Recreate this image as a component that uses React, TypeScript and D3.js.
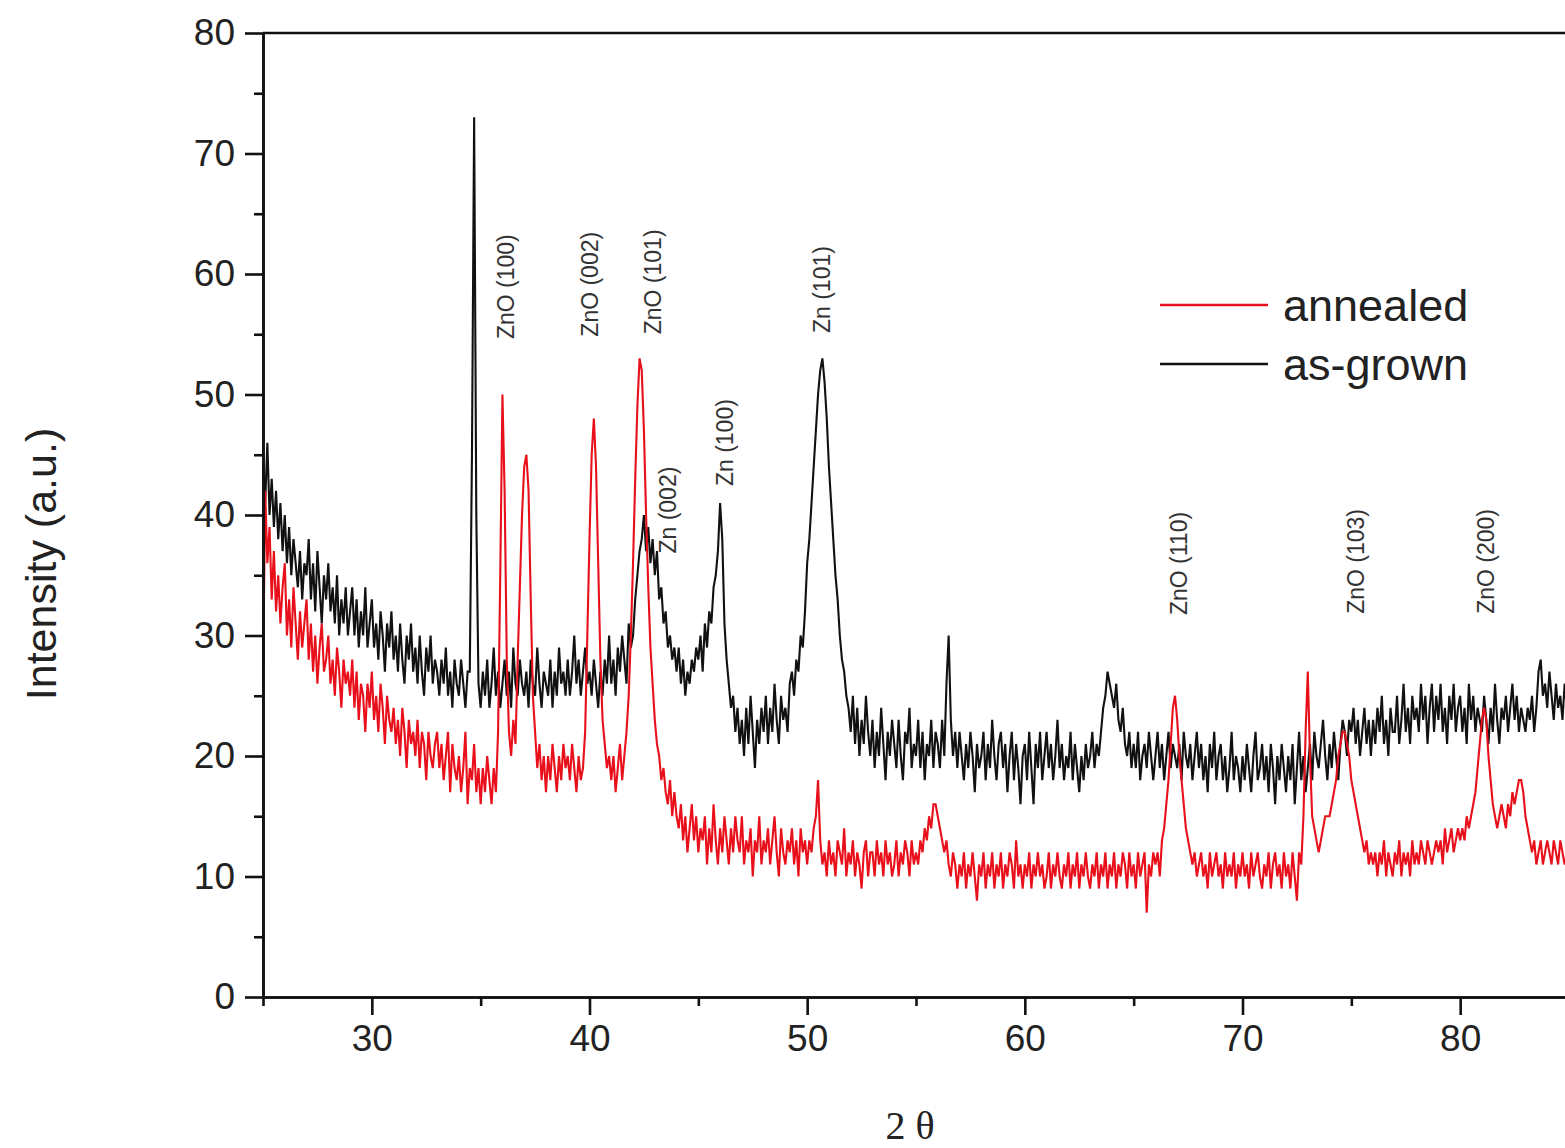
import * as d3 from "d3";
import { useRef, useEffect } from "react";

// 2θ grid of the scans: first angle and step (degrees)
const thetaStart = 25;
const thetaStep = 0.1;

// as-grown film, one row per degree (25.0 .. 25.9, 26.0 .. 26.9, ...)
const asGrown = [
  44, 41, 46, 40, 43, 39, 42, 38, 41, 37,
  40, 36, 39, 35, 38, 36, 34, 37, 33, 36,
  35, 38, 33, 36, 32, 37, 34, 31, 35, 33,
  36, 32, 34, 31, 35, 30, 33, 31, 34, 30,
  32, 34, 30, 33, 29, 32, 30, 34, 29, 31,
  33, 29, 31, 28, 32, 30, 27, 31, 29, 32,
  28, 30, 27, 31, 28, 26, 30, 28, 31, 27,
  29, 26, 30, 27, 25, 29, 27, 30, 26, 28,
  27, 25, 28, 26, 29, 25, 27, 24, 28, 26,
  25, 28, 26, 24, 27, 27, 45, 73, 40, 26,
  24, 27, 25, 28, 24, 26, 29, 25, 27, 24,
  26, 28, 25, 27, 24, 29, 26, 25, 28, 26,
  25, 27, 24, 28, 26, 25, 29, 26, 24, 27,
  26, 25, 28, 24, 27, 25, 29, 26, 27, 25,
  28, 25, 27, 30, 26, 28, 25, 27, 29, 26,
  27, 25, 28, 26, 24, 27, 25, 28, 26, 30,
  26, 28, 25, 29, 27, 30, 28, 26, 31, 29,
  30, 33, 35, 37, 38, 40, 37, 39, 36, 38,
  35, 37, 33, 34, 31, 32, 29, 30, 28, 29,
  27, 29, 26, 28, 25, 27, 26, 28, 27, 29,
  28, 30, 27, 31, 29, 32, 31, 34, 35, 37,
  41, 38, 31, 28, 26, 24, 25, 22, 24, 21,
  23, 20, 24, 21, 25, 22, 19, 23, 21, 24,
  22, 25, 21, 24, 22, 26, 23, 21, 25, 23,
  24, 22, 26, 27, 25, 28, 27, 30, 29, 32,
  36, 38, 41, 44, 47, 50, 52, 53, 51, 48,
  44, 41, 38, 35, 33, 30, 28, 27, 25, 24,
  22, 25, 21, 24, 20, 23, 21, 25, 22, 20,
  23, 19, 22, 20, 24, 21, 18, 22, 20, 23,
  21, 19, 23, 20, 18, 22, 21, 24, 19, 21,
  20, 23, 19, 22, 18, 21, 20, 23, 19, 22,
  21, 19, 23, 20, 26, 30, 23, 20, 22, 19,
  22, 20, 18, 21, 19, 22, 20, 17, 21, 19,
  20, 22, 18, 21, 19, 23, 20, 18, 21, 22,
  19, 21, 17, 20, 22, 18, 21, 19, 16, 20,
  21, 18, 22, 19, 16, 21, 19, 22, 18, 20,
  22, 19, 21, 18, 20, 23, 19, 21, 18, 20,
  19, 22, 18, 21, 19, 17, 20, 18, 21, 19,
  20, 22, 19, 21, 20, 22, 24, 25, 27, 26,
  25, 24, 26, 23, 22, 24, 21, 20, 22, 19,
  21, 19, 22, 18, 20, 21, 19, 22, 20, 18,
  20, 22, 19, 21, 18, 20, 22, 19, 21, 20,
  19, 21, 18, 22, 20, 19, 21, 18, 20, 22,
  19, 21, 18, 20, 17, 21, 19, 22, 18, 20,
  21, 18, 20, 17, 19, 22, 18, 20, 19, 17,
  20, 18, 21, 19, 17, 20, 22, 18, 19, 21,
  18, 20, 17, 21, 19, 16, 20, 18, 21, 19,
  17, 20, 18, 21, 16, 19, 22, 18, 20, 17,
  19, 21, 18, 22, 20, 19, 21, 23, 20, 18,
  21, 19, 22, 20, 18, 21, 23, 22, 20, 23,
  22, 24, 21, 23, 20, 22, 24, 21, 23, 20,
  23, 21, 24, 22, 25, 21, 23, 20, 24, 22,
  22, 25, 21, 23, 26, 22, 24, 21, 25, 23,
  24, 22, 26, 23, 25, 21, 24, 26, 22, 25,
  23, 26, 22, 24, 21, 25, 23, 26, 22, 24,
  25, 22, 24, 21, 26, 23, 25, 22, 24, 23,
  22, 25, 23, 21, 24, 22, 26, 23, 21, 24,
  23, 25, 22, 24, 26, 23, 25, 22, 24, 23,
  22, 24, 23, 25, 22, 24, 27, 28, 25, 26,
  24, 27, 25, 23, 26, 24, 25, 23, 26, 24,
  25,
];

// annealed film, same grid
const annealed = [
  26, 42, 36, 39, 33, 37, 32, 35, 31, 34,
  36, 30, 33, 29, 34, 31, 28, 32, 29, 31,
  33, 28, 31, 27, 30, 26, 29, 31, 27, 28,
  30, 26, 28, 25, 29, 27, 24, 28, 26, 27,
  25, 28, 24, 27, 23, 26, 25, 22, 26, 24,
  27, 23, 25, 22, 26, 24, 21, 25, 23, 22,
  24, 21, 23, 20, 24, 22, 19, 23, 21, 22,
  20, 23, 19, 22, 21, 18, 22, 20, 19, 21,
  22, 19, 21, 18, 20, 22, 17, 21, 19, 18,
  20, 17, 19, 22, 16, 19, 18, 21, 17, 19,
  16, 19, 17, 20, 18, 16, 19, 17, 22, 35,
  50, 42, 28, 22, 20, 23, 21, 28, 34, 40,
  44, 45, 42, 33, 25, 22, 19, 21, 18, 20,
  17, 20, 18, 21, 19, 17, 20, 18, 21, 19,
  20, 18, 21, 19, 17, 20, 18, 19, 22, 30,
  38, 45, 48, 44, 36, 28, 23, 21, 19, 20,
  18, 20, 17, 19, 21, 18, 20, 22, 25, 30,
  36, 43, 49, 53, 52, 47, 40, 34, 29, 26,
  23, 21, 20, 18, 19, 17, 16, 18, 15, 17,
  15, 14, 16, 13, 15, 12, 14, 16, 13, 15,
  12, 14, 13, 15, 11, 14, 12, 16, 13, 11,
  14, 12, 15, 13, 11, 14, 12, 15, 13, 12,
  15, 11, 13, 12, 14, 10, 13, 12, 15, 11,
  13, 12, 14, 11, 13, 15, 12, 10, 14, 12,
  11, 13, 12, 14, 11, 13, 10, 14, 12, 13,
  11, 13, 12, 14, 15, 18, 13, 11, 12, 10,
  13, 11, 12, 10, 13, 12, 11, 14, 10, 12,
  11, 13, 10, 12, 11, 9, 12, 13, 10, 12,
  12, 10, 13, 11, 12, 10, 13, 11, 12, 10,
  11, 13, 10, 12, 11, 13, 12, 10, 13, 11,
  12, 11, 13, 12, 14, 13, 15, 14, 16, 16,
  15, 14, 13, 12, 13, 11, 10, 12, 11, 9,
  11, 10, 12, 9, 11, 10, 12, 10, 8, 11,
  10, 12, 9, 11, 10, 12, 9, 11, 10, 12,
  9, 11, 10, 12, 11, 9, 13, 10, 11, 9,
  11, 10, 12, 9, 11, 10, 12, 10, 11, 9,
  10, 12, 9, 11, 10, 12, 10, 9, 11, 10,
  12, 9, 11, 10, 12, 9, 11, 10, 12, 10,
  9, 11, 10, 12, 9, 11, 10, 12, 9, 11,
  10, 12, 9, 11, 10, 12, 11, 9, 12, 10,
  11, 9, 12, 10, 11, 12, 7, 11, 10, 12,
  11, 12, 10, 13, 14, 16, 18, 21, 24, 25,
  23, 20, 18, 16, 14, 13, 12, 11, 12, 10,
  11, 12, 10, 11, 9, 12, 10, 11, 12, 10,
  11, 9, 12, 10, 11, 10, 12, 9, 11, 10,
  12, 10, 11, 9, 12, 10, 11, 12, 10, 9,
  11, 10, 12, 9, 11, 12, 10, 11, 9, 12,
  10, 11, 9, 12, 10, 8, 12, 11, 15, 22,
  27, 20, 15, 14, 13, 12, 13, 14, 15, 15,
  15, 16, 17, 18, 20, 21, 22, 22, 21, 20,
  18, 17, 16, 15, 14, 13, 12, 13, 11, 12,
  11, 12, 10, 12, 11, 13, 10, 12, 11, 10,
  12, 11, 13, 10, 12, 11, 12, 10, 13, 11,
  12, 11, 13, 12, 11, 13, 12, 11, 12, 13,
  12, 13, 11, 14, 12, 13, 14, 12, 13, 14,
  13, 14, 13, 15, 14, 15, 16, 17, 19, 21,
  23, 24, 23, 20, 18, 16, 15, 14, 15, 16,
  15, 14, 16, 15, 17, 16, 17, 18, 18, 17,
  15, 14, 13, 12, 13, 11, 12, 13, 11, 12,
  13, 12, 11, 13, 12, 11, 13, 12, 11, 12,
  12,
];

// reflection labels: text, 2θ of label, intensity where the label starts
const peakNames = ["ZnO (100)", "ZnO (002)", "ZnO (101)", "Zn (101)", "Zn (002)", "Zn (100)", "ZnO (110)", "ZnO (103)", "ZnO (200)"];
const peakTheta = [36.17, 40.0, 42.9, 50.65, 43.6, 46.2, 67.05, 75.2, 81.16];
const peakLabelY = [54.6, 54.8, 55.0, 55.1, 36.8, 42.4, 31.7, 31.8, 31.8];

const xTicks = [30, 40, 50, 60, 70, 80];
const yTicks = [0, 10, 20, 30, 40, 50, 60, 70, 80];

const seriesNames = ["annealed", "as-grown"];
const seriesColors = ["#e8101a", "#111111"];

const W = 1565;
const H = 1148;

const App = () => {
  const svgRef = useRef(null);

  useEffect(() => {
    const svg = d3.select(svgRef.current);
    svg.selectAll("*").remove();

    const x = d3.scaleLinear().domain([25, 85]).range([263, 1569]);
    const y = d3.scaleLinear().domain([0, 80]).range([997, 33]);

    const toPoints = (vals) => vals.map((v, i) => [thetaStart + i * thetaStep, v]);
    const line = d3.line().x((d) => x(d[0])).y((d) => y(d[1]));

    // curves: as-grown under annealed
    svg.append("path")
      .datum(toPoints(asGrown))
      .attr("fill", "none")
      .attr("stroke", seriesColors[1])
      .attr("stroke-width", 2.1)
      .attr("d", line);

    svg.append("path")
      .datum(toPoints(annealed))
      .attr("fill", "none")
      .attr("stroke", seriesColors[0])
      .attr("stroke-width", 2.1)
      .attr("d", line);

    // axes
    const font = "Liberation Sans, Arial, sans-serif";
    const xAxis = d3.axisBottom(x).tickValues(xTicks).tickSize(18).tickSizeOuter(0).tickPadding(10);
    const xMinor = d3.axisBottom(x).tickValues([25, 35, 45, 55, 65, 75, 85]).tickSize(9).tickSizeOuter(0).tickFormat(() => "");
    const yAxis = d3.axisLeft(y).tickValues(yTicks).tickSize(18).tickSizeOuter(0).tickPadding(10);
    const yMinor = d3.axisLeft(y).tickValues([5, 15, 25, 35, 45, 55, 65, 75]).tickSize(9).tickSizeOuter(0).tickFormat(() => "");

    const styleAxis = (g) => {
      g.select(".domain").attr("stroke", "#111").attr("stroke-width", 2.6);
      g.selectAll(".tick line").attr("stroke", "#111").attr("stroke-width", 2.6);
      g.selectAll(".tick text")
        .attr("fill", "#222")
        .attr("font-family", font)
        .attr("font-size", 37);
    };

    svg.append("g").attr("transform", `translate(0,${y(0)})`).call(xMinor).call(styleAxis);
    svg.append("g").attr("transform", `translate(0,${y(0)})`).call(xAxis).call(styleAxis);
    svg.append("g").attr("transform", `translate(${x(25)},0)`).call(yMinor).call(styleAxis);
    svg.append("g").attr("transform", `translate(${x(25)},0)`).call(yAxis).call(styleAxis);

    // top frame line
    svg.append("line")
      .attr("x1", x(25)).attr("x2", x(85))
      .attr("y1", y(80)).attr("y2", y(80))
      .attr("stroke", "#111").attr("stroke-width", 2.6);

    // axis titles
    svg.append("text")
      .attr("transform", `translate(56,564) rotate(-90)`)
      .attr("text-anchor", "middle")
      .attr("font-family", font)
      .attr("font-size", 43)
      .attr("fill", "#222")
      .text("Intensity (a.u.)");

    svg.append("text")
      .attr("x", 910)
      .attr("y", 1139)
      .attr("text-anchor", "middle")
      .attr("font-family", "Liberation Serif, Times New Roman, serif")
      .attr("font-size", 40)
      .attr("fill", "#222")
      .text("2 θ");

    // reflection labels
    peakNames.forEach((name, i) => {
      svg.append("text")
        .attr("transform", `translate(${x(peakTheta[i])},${y(peakLabelY[i])}) rotate(-90)`)
        .attr("dy", "0.36em")
        .attr("font-family", font)
        .attr("font-size", 23)
        .attr("fill", "#333")
        .text(name);
    });

    // legend
    seriesNames.forEach((name, i) => {
      const ly = 305 + i * 59;
      svg.append("line")
        .attr("x1", 1160).attr("x2", 1268)
        .attr("y1", ly).attr("y2", ly)
        .attr("stroke", seriesColors[i])
        .attr("stroke-width", 2.4);
      svg.append("text")
        .attr("x", 1283)
        .attr("y", ly + 16)
        .attr("font-family", font)
        .attr("font-size", 45)
        .attr("fill", "#222")
        .text(name);
    });
  }, []);

  return (
    <svg
      ref={svgRef}
      width={W}
      height={H}
      style={{ position: "absolute", left: 0, top: 0, background: "#fff" }}
    />
  );
};

export default App;
